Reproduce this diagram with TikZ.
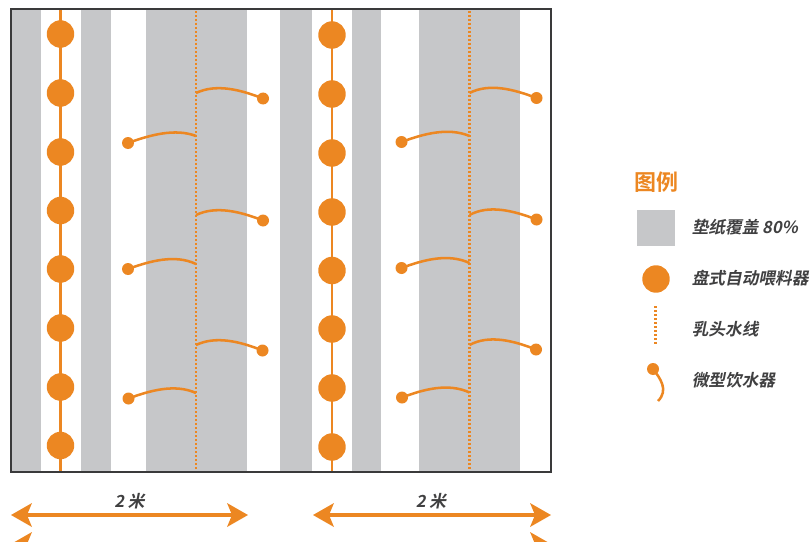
\documentclass[tikz,border=0pt]{standalone}
\usepackage{fontspec}
\newfontfamily\cjk[FakeSlant=0.2,BoldFont={Noto Sans CJK SC Bold},BoldFeatures={FakeSlant=0.2}]{Noto Sans CJK SC}
\newfontfamily\cjktitle{Noto Sans CJK SC Bold}
\definecolor{og}{HTML}{EC8722}
\definecolor{pap}{HTML}{C6C7C9}
\definecolor{txt}{HTML}{404041}
\definecolor{frm}{HTML}{3A3A3B}
\tikzset{
  feeder/.style={circle,fill=og,minimum size=20.6pt,inner sep=0,draw=none},
  drinkdot/.style={circle,fill=og,minimum size=9pt,inner sep=0,draw=none},
  joint/.style={coordinate},
  stripe/.style={fill=pap,draw=none},
  feedline/.style={draw=og,line width=1.9pt},
  waterline/.style={draw=og,line width=1.9pt,dash pattern=on 1.5pt off 1.5pt},
  hose/.style={draw=og,line width=1.9pt},
  dimline/.style={draw=og,line width=2.6pt},
  dimhead/.style={fill=og,draw=none},
  lab/.style={font=\cjk\bfseries\fontsize{12.5}{14}\selectfont,text=txt,inner sep=0},
  leg/.style={lab,anchor=west},
}
\newcommand{\headL}[2]{\fill[dimhead] (#1,#2) -- ++(21,-12) -- ++(-5,12) -- ++(5,12) -- cycle;}
\newcommand{\headR}[2]{\fill[dimhead] (#1,#2) -- ++(-21,-12) -- ++(5,12) -- ++(-5,12) -- cycle;}
\begin{document}
\begin{tikzpicture}[x=0.75pt,y=-0.75pt]
\useasboundingbox (0,0) rectangle (810,542);
\clip (0,0) rectangle (810,542);
% paper stripes
\foreach \a/\b in {11/41,81/111,146/247,280/312,352/381,419/520}
  \fill[stripe] (\a,9) rectangle (\b,472);
% frame corners
\coordinate (fa) at (11,9); \coordinate (fb) at (551,472);
% feed lines
\coordinate (f1t) at (60.5,9); \coordinate (f1b) at (60.5,472);
\coordinate (f2t) at (332,9); \coordinate (f2b) at (332,472);
\draw[feedline] (f1t) -- (f1b);
\draw[feedline] (f2t) -- (f2b);
% water lines
\coordinate (w1t) at (196,11); \coordinate (w1b) at (196,475);
\coordinate (w2t) at (469.5,11); \coordinate (w2b) at (469.5,475);
\draw[waterline] (w1t) -- (w1b);
\draw[waterline] (w2t) -- (w2b);
\draw[frm,line width=1pt] (fa) rectangle (fb);
% feeders
\foreach \i/\y in {1/34,2/93,3/152,4/210.5,5/269,6/328,7/387,8/445.5}
  \node[feeder] (fl\i) at (60.5,\y) {};
\foreach \i/\y in {1/35,2/94,3/153,4/212,5/270.5,6/329,7/388,8/447}
  \node[feeder] (fr\i) at (332,\y) {};
% drinkers on the first water line
\foreach \n/\dx/\dy/\jy in {a/128/143/136,b/128/269/264,c/128.5/398.5/393}{
  \node[drinkdot] (d\n) at (\dx,\dy) {};
  \coordinate (j\n) at (196,\jy);
  \draw[hose] (d\n.center) .. controls (150,\dy-8) and (175,\dy-15) .. (j\n);
}
\foreach \n/\dx/\dy/\jy in {d/263/98.5/93,e/263/220.5/215,f/262.5/350.5/345}{
  \node[drinkdot] (d\n) at (\dx,\dy) {};
  \coordinate (j\n) at (196,\jy);
  \draw[hose] (d\n.center) .. controls (240,\dy-9) and (216,\dy-15) .. (j\n);
}
% drinkers on the second water line
\foreach \n/\dx/\dy/\jy in {g/401.5/142/136,h/401.5/268/263,i/402/397.5/392.5}{
  \node[drinkdot] (d\n) at (\dx,\dy) {};
  \coordinate (j\n) at (469.5,\jy);
  \draw[hose] (d\n.center) .. controls (423,\dy-8) and (448,\dy-15) .. (j\n);
}
\foreach \n/\dx/\dy/\jy in {k/536.5/98/93,l/536.5/219.5/215,m/536/349.5/345}{
  \node[drinkdot] (d\n) at (\dx,\dy) {};
  \coordinate (j\n) at (469.5,\jy);
  \draw[hose] (d\n.center) .. controls (513,\dy-9) and (489,\dy-15) .. (j\n);
}
% dimensions
\coordinate (l1) at (25,515); \coordinate (l2) at (235,515);
\coordinate (r1) at (326,515); \coordinate (r2) at (537,515);
\coordinate (b1) at (25,544); \coordinate (b2) at (537,544);
\draw[dimline] (l1) -- (l2);
\draw[dimline] (r1) -- (r2);
\draw[dimline] (b1) -- (b2);
\headL{11}{515} \headR{248}{515}
\headL{313}{515} \headR{551}{515}
\headL{11}{544} \headR{551}{544}
\node[lab] (t1) at (129.5,501.5) {2 米};
\node[lab] (t2) at (431,501.5) {2 米};
% legend
\node[anchor=west,inner sep=0,text=og,font=\cjktitle\fontsize{16.5}{18}\selectfont] (title) at (634,182) {图例};
\fill[stripe] (637,210) rectangle (674.5,246);
\node[feeder] (lf) at (656,279) {};
\coordinate (lwt) at (655.5,306); \coordinate (lwb) at (655.5,345);
\draw[waterline,line width=2.2pt] (lwt) -- (lwb);
\node[drinkdot] (ld) at (653,369) {};
\coordinate (lde) at (658,401);
\draw[hose] (ld.center) .. controls (660,378) and (669,390) .. (lde);
\node[leg] (l1t) at (691.5,227) {垫纸覆盖 80\%};
\node[leg] (l2t) at (691.5,278) {盘式自动喂料器};
\node[leg] (l3t) at (691.5,329) {乳头水线};
\node[leg] (l4t) at (691.5,380) {微型饮水器};
\end{tikzpicture}
\end{document}
